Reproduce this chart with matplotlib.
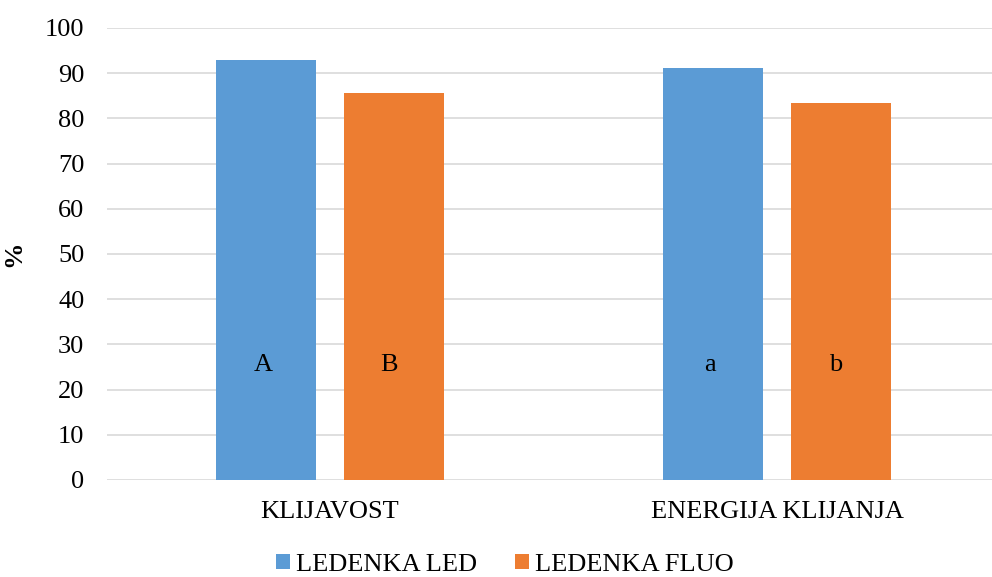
import numpy as np
import matplotlib.pyplot as plt

plt.rcParams['font.family'] = ['Liberation Serif', 'DejaVu Serif']

categories = ['KLIJAVOST', 'ENERGIJA KLIJANJA']
series_names = ['LEDENKA LED', 'LEDENKA FLUO']
led = [92.9, 91.2]
fluo = [85.6, 83.4]
led_letters = ['A', 'a']
fluo_letters = ['B', 'b']

blue = '#5B9BD5'
orange = '#ED7D31'
fs = 19

fig = plt.figure(figsize=(9.92, 5.77), dpi=100)
ax = fig.add_axes([106.5 / 992, 1 - 480 / 577, 894 / 992, 452 / 577])

x = np.arange(len(categories))
w = 0.224
off = 0.143
ax.bar(x - off, led, w, color=blue, label=series_names[0], zorder=3)
ax.bar(x + off, fluo, w, color=orange, label=series_names[1], zorder=3)

for i in range(len(categories)):
    ax.text(x[i] - off - 0.006, 25.5, led_letters[i], ha='center', va='center', fontsize=fs, zorder=4)
    ax.text(x[i] + off - 0.012, 25.5, fluo_letters[i], ha='center', va='center', fontsize=fs, zorder=4)

ax.set_xlim(-0.5, 1.5)
ax.set_ylim(0, 100)
ax.set_yticks(range(0, 101, 10))
ax.set_xticks(x)
ax.set_xticklabels(categories)
ax.tick_params(axis='both', length=0, labelsize=fs)
ax.tick_params(axis='y', pad=16)
ax.tick_params(axis='x', pad=15)
ax.grid(axis='y', color='#d9d9d9', linewidth=1.2, zorder=0)
for s in ax.spines.values():
    s.set_visible(False)
ax.set_ylabel('%', fontsize=fs, fontweight='bold', labelpad=14)

ax.legend(loc='center', bbox_to_anchor=(0.446, -0.188), ncol=2, frameon=False,
          fontsize=fs, handlelength=0.53, handleheight=0.53, handletextpad=0.23,
          columnspacing=1.44, borderpad=0, borderaxespad=0)

fig.savefig('out.png', dpi=100)
